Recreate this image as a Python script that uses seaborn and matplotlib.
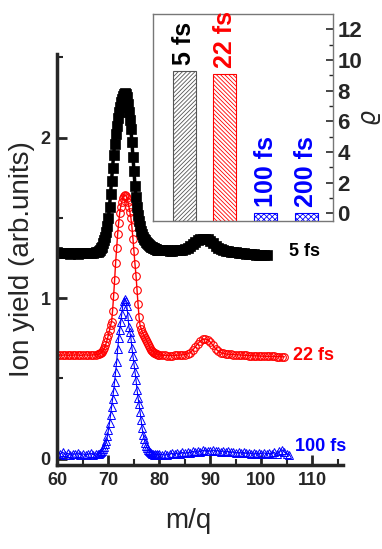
import numpy as np
import pandas as pd
import matplotlib
matplotlib.use("Agg")
import matplotlib.pyplot as plt
import seaborn as sns

# ion yield spectra (m/q), three pulse durations, offset vertically
# x grid: 60-68 step 0.5, 68.2-80 step 0.2, then 80.5.. step 0.5
y5_base = [1.285, 1.28, 1.28, 1.278, 1.28, 1.275, 1.278, 1.28, 1.275, 1.278,
           1.28, 1.28, 1.282, 1.28, 1.283, 1.285, 1.288]
y5_peak = [1.29, 1.30, 1.31, 1.32, 1.34, 1.36, 1.38, 1.41, 1.45, 1.50,
           1.57, 1.65, 1.73, 1.81, 1.89, 1.96, 2.02, 2.07, 2.12, 2.16,
           2.19, 2.22, 2.24, 2.26, 2.27, 2.275, 2.27, 2.25, 2.21, 2.16,
           2.11, 2.05, 1.97, 1.88, 1.79, 1.70, 1.63, 1.57, 1.52, 1.48,
           1.45, 1.42, 1.40, 1.38, 1.37, 1.36, 1.35, 1.34, 1.335, 1.33,
           1.325, 1.32, 1.315, 1.31, 1.31, 1.305, 1.305, 1.30, 1.30, 1.30]
y5_tail = [1.30, 1.298, 1.297, 1.296, 1.296, 1.297, 1.298, 1.30, 1.302, 1.306,
           1.313, 1.325, 1.338, 1.35, 1.36, 1.366, 1.37, 1.37, 1.366, 1.355,
           1.34, 1.325, 1.312, 1.303, 1.297, 1.293, 1.29, 1.288, 1.286, 1.284,
           1.282, 1.28, 1.278, 1.276, 1.275, 1.273, 1.272, 1.27, 1.268, 1.267,
           1.266, 1.265]

y22_base = [0.647, 0.645, 0.644, 0.646, 0.643, 0.645, 0.644, 0.646, 0.645, 0.643,
            0.645, 0.646, 0.644, 0.645, 0.646, 0.647, 0.649]
y22_peak = [0.652, 0.656, 0.660, 0.667, 0.676, 0.69, 0.705, 0.725, 0.748, 0.772,
            0.80, 0.83, 0.85, 0.92, 1.01, 1.11, 1.22, 1.31, 1.40, 1.47,
            1.53, 1.57, 1.60, 1.625, 1.638, 1.642, 1.638, 1.625, 1.60, 1.57,
            1.535, 1.50, 1.44, 1.37, 1.29, 1.21, 1.14, 1.05, 0.96, 0.88,
            0.83, 0.81, 0.79, 0.775, 0.762, 0.752, 0.740, 0.728, 0.716, 0.700,
            0.688, 0.677, 0.670, 0.664, 0.659, 0.655, 0.652, 0.650, 0.648, 0.646]
y22_tail = [0.644, 0.643, 0.642, 0.642, 0.642, 0.643, 0.644, 0.645, 0.646, 0.648,
            0.652, 0.66, 0.675, 0.695, 0.715, 0.732, 0.742, 0.745, 0.74, 0.725,
            0.705, 0.685, 0.67, 0.66, 0.655, 0.652, 0.65, 0.649, 0.648, 0.647,
            0.646, 0.645, 0.644, 0.643, 0.642, 0.641, 0.64, 0.64, 0.639, 0.638,
            0.638, 0.637, 0.637, 0.636, 0.636, 0.635, 0.635, 0.634, 0.634]

y100_base = [0.035, 0.028, 0.04, 0.025, 0.033, 0.022, 0.03, 0.027, 0.036, 0.024,
             0.03, 0.021, 0.028, 0.033, 0.025, 0.03, 0.028]
y100_peak = [0.03, 0.035, 0.04, 0.05, 0.06, 0.075, 0.09, 0.11, 0.14, 0.18,
             0.22, 0.27, 0.32, 0.37, 0.42, 0.48, 0.54, 0.60, 0.68, 0.75,
             0.80, 0.85, 0.90, 0.95, 0.98, 0.995, 0.98, 0.95, 0.89, 0.82,
             0.79, 0.75, 0.69, 0.64, 0.59, 0.54, 0.49, 0.43, 0.38, 0.34,
             0.29, 0.24, 0.19, 0.15, 0.125, 0.10, 0.08, 0.065, 0.055, 0.045,
             0.04, 0.035, 0.03, 0.028, 0.025, 0.03, 0.022, 0.028, 0.024, 0.027]
y100_tail = [0.025, 0.03, 0.022, 0.028, 0.032, 0.026, 0.035, 0.03, 0.038, 0.033,
             0.04, 0.036, 0.045, 0.04, 0.048, 0.044, 0.052, 0.047, 0.05, 0.045,
             0.053, 0.046, 0.05, 0.043, 0.048, 0.04, 0.045, 0.038, 0.042, 0.036,
             0.04, 0.034, 0.038, 0.032, 0.037, 0.03, 0.035, 0.028, 0.034, 0.03,
             0.036, 0.027, 0.033, 0.03, 0.038, 0.028, 0.045, 0.055, 0.04, 0.03,
             0.02]

# inset: contrast rho per pulse duration
bar_labels = ["5 fs", "22 fs", "100 fs", "200 fs"]
rho = [9.3, 9.1, 0.03, 0.03]


def grid(base, peak, tail):
    x = np.r_[60 + 0.5 * np.arange(len(base)),
              68.2 + 0.2 * np.arange(len(peak)),
              80.5 + 0.5 * np.arange(len(tail))]
    return pd.DataFrame({"mq": x, "y": base + peak + tail})


d5 = grid(y5_base, y5_peak, y5_tail)
d22 = grid(y22_base, y22_peak, y22_tail)
d100 = grid(y100_base, y100_peak, y100_tail)

sns.set_style("ticks")
plt.rcParams["font.family"] = ["Liberation Sans", "DejaVu Sans"]
plt.rcParams["hatch.linewidth"] = 0.6

fig = plt.figure(figsize=(3.82, 5.49), dpi=100)
ax = fig.add_axes([0.1505, 0.153, 0.7475, 0.7486])

sns.lineplot(data=d100, x="mq", y="y", ax=ax, color="blue", lw=0.8,
             marker="^", ms=6, mfc="none", mec="blue", mew=0.7)
sns.lineplot(data=d22, x="mq", y="y", ax=ax, color="red", lw=1.0,
             marker="o", ms=5.5, mfc="none", mec="red", mew=0.8)
sns.lineplot(data=d5, x="mq", y="y", ax=ax, color="black", lw=2.5,
             marker="s", ms=6.5, mfc="black", mec="black", mew=0.5)

ax.text(105.5, 1.29, "5 fs", color="black", fontsize=13, fontweight="bold", va="center")
ax.text(106.1, 0.64, "22 fs", color="red", fontsize=13, fontweight="bold", va="center")
ax.text(106.5, 0.075, "100 fs", color="blue", fontsize=13, fontweight="bold", va="center")

ax.set_xlim(60, 116)
ax.set_ylim(-0.04, 2.52)
ax.set_xticks([60, 70, 80, 90, 100, 110])
ax.set_xticks([65, 75, 85, 95, 105, 115], minor=True)
ax.set_yticks([0, 1, 2])
ax.set_yticks([0.5, 1.5, 2.5], minor=True)
for s in ["top", "right"]:
    ax.spines[s].set_visible(False)
for s in ["left", "bottom"]:
    ax.spines[s].set_linewidth(2.5)
ax.tick_params(which="major", direction="in", length=7, width=2, pad=5)
ax.tick_params(which="minor", direction="in", length=4, width=1.5)
for lab in ax.get_xticklabels() + ax.get_yticklabels():
    lab.set_fontweight("bold")
    lab.set_fontsize(13)
ax.set_xlabel("m/q", fontsize=20)
ax.set_ylabel("Ion yield (arb.units)", fontsize=20)
ax.xaxis.set_label_coords(0.457, -0.105)
ax.yaxis.set_label_coords(-0.08, 0.5)

# inset bar chart
ax_in = fig.add_axes([0.4005, 0.5975, 0.4712, 0.377])
sns.barplot(x=bar_labels, y=rho, ax=ax_in, color="white", width=0.57, saturation=1)
styles = [("#555555", "////////"), ("red", "\\\\\\\\\\\\\\\\"), ("blue", "xxxxxx"), ("blue", "xxxxxx")]
for p, (ec, h) in zip(ax_in.patches, styles):
    p.set_facecolor("white")
    p.set_edgecolor(ec)
    p.set_hatch(h)
    p.set_linewidth(0.8)
    h0 = p.get_height()
    p.set_y(-0.5)
    p.set_height(h0 + 0.5)

txt_col = ["black", "red", "blue", "blue"]
for i, (lab, v) in enumerate(zip(bar_labels, rho)):
    ax_in.text(i, v + 0.4, lab, rotation=90, ha="center", va="bottom",
               color=txt_col[i], fontsize=18, fontweight="bold")

ax_in.set_xlim(-0.77, 3.66)
ax_in.set_ylim(-0.5, 13)
ax_in.set_xticks([])
ax_in.set_xlabel("")
ax_in.yaxis.tick_right()
ax_in.yaxis.set_label_position("right")
ax_in.set_yticks([0, 2, 4, 6, 8, 10, 12])
ax_in.set_yticks([1, 3, 5, 7, 9, 11], minor=True)
for s in ax_in.spines.values():
    s.set_color("#777777")
    s.set_linewidth(1)
ax_in.tick_params(which="major", direction="in", length=5, width=1.2, pad=3,
                  right=True, left=False, labelsize=16)
ax_in.tick_params(which="minor", direction="in", length=3, width=1, right=True, left=False)
for lab in ax_in.get_yticklabels():
    lab.set_fontweight("bold")
ax_in.set_ylabel(r"$\varrho$", fontsize=17, rotation=90)
ax_in.yaxis.set_label_coords(1.15, 0.5)

fig.savefig("out.png", dpi=100)
